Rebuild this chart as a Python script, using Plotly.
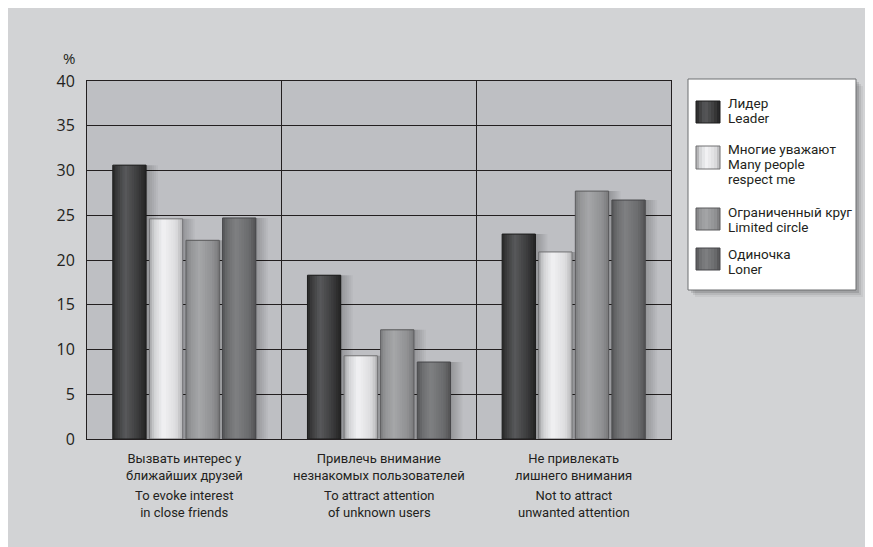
import plotly.graph_objects as go

# ---------------- data ----------------
categories_ru = ["Вызвать интерес у<br>ближайших друзей",
                 "Привлечь внимание<br>незнакомых пользователей",
                 "Не привлекать<br>лишнего внимания"]
categories_en = ["To evoke interest<br>in close friends",
                 "To attract attention<br>of unknown users",
                 "Not to attract<br>unwanted attention"]
series_names = [["Лидер", "Leader"],
                ["Многие уважают", "Many people", "respect me"],
                ["Ограниченный круг", "Limited circle"],
                ["Одиночка", "Loner"]]
leader = [30.6, 18.3, 22.9]
many_respect = [24.6, 9.3, 20.9]
limited_circle = [22.2, 12.2, 27.7]
loner = [24.7, 8.6, 26.7]
y_ticks = [0, 5, 10, 15, 20, 25, 30, 35, 40]
y_unit = "%"

series_values = [leader, many_respect, limited_circle, loner]

# ---------------- styles ----------------
OX, OY = 8, 8            # page body margin (gives the white border)
W, H = 873 - OX, 547 - OY
L, R, T, B = 87 - OX, 671 - OX, 81 - OY, 439 - OY
PW, PH = R - L, B - T

def px(x):  # reference-picture x pixel -> paper coordinate
    return (x - OX - L) / PW

def py(y):  # reference-picture y pixel -> paper coordinate
    return (B - (y - OY)) / PH

def hex2rgb(h):
    h = h.lstrip("#")
    return tuple(int(h[i:i + 2], 16) for i in (0, 2, 4))

def grad(stops, t):
    for (t0, c0), (t1, c1) in zip(stops[:-1], stops[1:]):
        if t0 <= t <= t1:
            f = (t - t0) / (t1 - t0) if t1 > t0 else 0
            a, b = hex2rgb(c0), hex2rgb(c1)
            return "rgb(%d,%d,%d)" % tuple(round(a[k] + (b[k] - a[k]) * f) for k in range(3))
    return stops[-1][1]

gradients = [
    [(0, "#262626"), (0.12, "#3a3a3b"), (0.38, "#58595b"), (0.75, "#3c3c3d"), (1, "#232323")],
    [(0, "#a2a2a4"), (0.15, "#d2d3d5"), (0.42, "#f2f2f4"), (0.8, "#dcdcde"), (1, "#b4b4b6")],
    [(0, "#7e7e80"), (0.15, "#959698"), (0.4, "#a5a6a8"), (0.8, "#909193"), (1, "#79797b")],
    [(0, "#555557"), (0.15, "#6c6d6f"), (0.4, "#7f8082"), (0.8, "#6a6b6d"), (1, "#525254")],
]
outlines = ["#1c1c1c", "#707072", "#5a5a5c", "#47474a"]
TXT = "#231f20"
NARROW = "Roboto, Liberation Sans, sans-serif"

spacing = 0.188
bar_w = 0.171
NSTRIP = 14
xs = list(range(len(categories_ru)))
unit_px = PW / 3.0

fig = go.Figure()

# soft shadows (drawn first, behind the bars)
for i, vals in enumerate(series_values):
    center = (i - 1.5) * spacing
    left = center - bar_w / 2
    for d in range(2, 14, 2):
        fig.add_trace(go.Bar(
            x=xs, y=vals, width=bar_w, offset=left + d / unit_px,
            marker=dict(color="rgba(0,0,0,0.035)", line=dict(width=0)),
            showlegend=False, hoverinfo="skip"))

for i, vals in enumerate(series_values):
    center = (i - 1.5) * spacing
    left = center - bar_w / 2
    sw = bar_w / NSTRIP
    for j in range(NSTRIP):
        t = (j + 0.5) / NSTRIP
        w = min(2 * sw, bar_w - j * sw)
        fig.add_trace(go.Bar(
            x=xs, y=vals, width=w, offset=left + j * sw,
            marker=dict(color=grad(gradients[i], t), line=dict(width=0)),
            showlegend=False, hoverinfo="skip"))
    fig.add_trace(go.Bar(
        x=xs, y=vals, width=bar_w, offset=left,
        name=" ".join(series_names[i]),
        marker=dict(color="rgba(0,0,0,0)", line=dict(color=outlines[i], width=1)),
        showlegend=False))

shapes = []
# legend box with shadow
for k, op in [(7, 0.05), (5, 0.08), (3, 0.12)]:
    shapes.append(dict(type="rect", xref="paper", yref="paper",
                       x0=px(688 + k), x1=px(856 + k), y0=py(290 + k), y1=py(79 + k),
                       fillcolor="rgba(0,0,0,%.2f)" % op, line=dict(width=0)))
shapes.append(dict(type="rect", xref="paper", yref="paper",
                   x0=px(688), x1=px(856), y0=py(290), y1=py(79),
                   fillcolor="white", line=dict(color="#6d6e70", width=1)))

sw_y = [(101, 123), (146, 169), (208, 230), (248, 270)]
text_y = [[103, 118], [149, 164, 179], [212, 227], [254, 269]]
annotations = []
for i, (y0, y1) in enumerate(sw_y):
    n = 8
    for j in range(n):
        t = (j + 0.5) / n
        x1 = min(696 + 24 * (j + 2) / n, 720)
        shapes.append(dict(type="rect", xref="paper", yref="paper",
                           x0=px(696 + 24 * j / n), x1=px(x1),
                           y0=py(y1), y1=py(y0),
                           fillcolor=grad(gradients[i], t), line=dict(width=0)))
    shapes.append(dict(type="rect", xref="paper", yref="paper",
                       x0=px(696), x1=px(720), y0=py(y1), y1=py(y0),
                       fillcolor="rgba(0,0,0,0)", line=dict(color=outlines[i], width=1)))
    for line_txt, ly in zip(series_names[i], text_y[i]):
        annotations.append(dict(xref="paper", yref="paper", x=px(726), y=py(ly),
                                xanchor="left", yanchor="middle", showarrow=False,
                                text=line_txt,
                                font=dict(family=NARROW, size=13.5, color=TXT)))

for i in xs:
    annotations.append(dict(xref="x", yref="paper", x=i, y=py(467), xanchor="center",
                            yanchor="middle", showarrow=False, text=categories_ru[i],
                            font=dict(family=NARROW, size=13, color=TXT)))
    annotations.append(dict(xref="x", yref="paper", x=i, y=py(504), xanchor="center",
                            yanchor="middle", showarrow=False, text=categories_en[i],
                            font=dict(family=NARROW, size=13, color=TXT)))

annotations.append(dict(xref="paper", yref="paper", x=px(69), y=py(58), xanchor="center",
                        yanchor="middle", showarrow=False, text=y_unit,
                        font=dict(family="Open Sans, sans-serif", size=15, color=TXT)))

fig.update_layout(
    width=W, height=H,
    margin=dict(l=L, r=W - R, t=T, b=H - B, pad=0),
    paper_bgcolor="#d2d3d5", plot_bgcolor="#bebfc3",
    barmode="overlay", showlegend=False,
    shapes=shapes, annotations=annotations,
    xaxis=dict(range=[-0.5, 2.5], tickvals=[0.5, 1.5], showticklabels=False,
               showgrid=True, gridcolor=TXT, gridwidth=1, zeroline=False,
               showline=True, mirror=True, linecolor=TXT, linewidth=1, ticks=""),
    yaxis=dict(range=[0, 40], tickvals=y_ticks, showgrid=True, gridcolor=TXT,
               gridwidth=1, zeroline=False, showline=True, mirror=True,
               linecolor=TXT, linewidth=1, ticks="", ticklabelstandoff=8,
               tickfont=dict(family="Open Sans, sans-serif", size=16, color=TXT)),
)

fig.write_html("out.html")
